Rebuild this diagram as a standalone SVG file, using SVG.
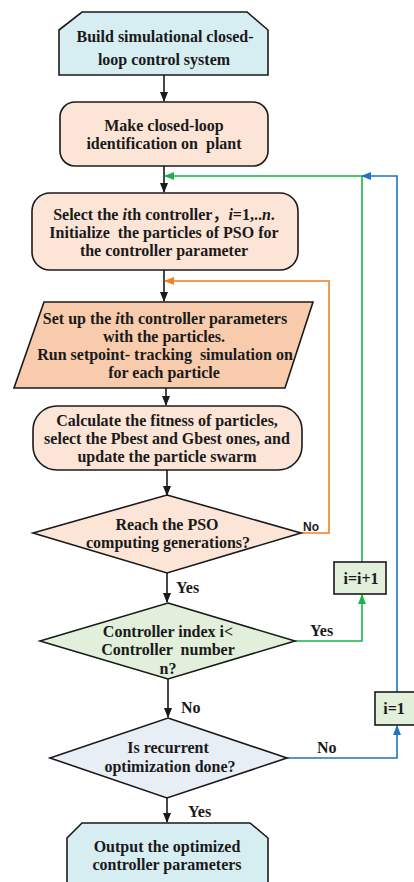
<svg xmlns="http://www.w3.org/2000/svg" width="414" height="882" viewBox="0 0 414 882" xml:space="preserve">
<defs>
<style>
.t{font-family:"Liberation Serif","Times New Roman","Noto Sans CJK SC",serif;font-weight:bold;font-size:16px;fill:#1a1a1a;text-anchor:middle;white-space:pre}
.l{font-family:"Liberation Serif","Times New Roman",serif;font-weight:bold;font-size:16px;fill:#1a1a1a}
.ls{font-family:"Liberation Sans",Arial,sans-serif;font-weight:bold;font-size:12px;fill:#1a1a1a}
.s{stroke:#1a1a1a;stroke-width:1.6}
.c{fill:none;stroke-width:1.6}
.k{stroke:#1a1a1a}
.g{stroke:#19b34a}
.o{stroke:#f47f20}
.b{stroke:#1f72c4}
</style>
<marker id="ak" markerWidth="10" markerHeight="10" refX="9" refY="5" orient="auto" markerUnits="userSpaceOnUse"><path d="M0,1 L10,5 L0,9 z" fill="#1a1a1a"/></marker>
<marker id="ag" markerWidth="10" markerHeight="10" refX="9" refY="5" orient="auto" markerUnits="userSpaceOnUse"><path d="M0,1 L10,5 L0,9 z" fill="#19b34a"/></marker>
<marker id="ao" markerWidth="10" markerHeight="10" refX="9" refY="5" orient="auto" markerUnits="userSpaceOnUse"><path d="M0,1 L10,5 L0,9 z" fill="#f47f20"/></marker>
<marker id="ab" markerWidth="10" markerHeight="10" refX="9" refY="5" orient="auto" markerUnits="userSpaceOnUse"><path d="M0,1 L10,5 L0,9 z" fill="#1f72c4"/></marker>
</defs>
<rect width="414" height="882" fill="#ffffff"/>

<g id="connectors">
<line class="c k" x1="164" y1="75" x2="164" y2="101" marker-end="url(#ak)"/>
<line class="c k" x1="164" y1="166" x2="164" y2="192" marker-end="url(#ak)"/>
<line class="c k" x1="164" y1="270" x2="164" y2="301" marker-end="url(#ak)"/>
<line class="c k" x1="166" y1="388" x2="166" y2="405" marker-end="url(#ak)"/>
<line class="c k" x1="167" y1="470" x2="167" y2="495" marker-end="url(#ak)"/>
<line class="c k" x1="167" y1="573" x2="167" y2="602" marker-end="url(#ak)"/>
<line class="c k" x1="168" y1="679" x2="168" y2="717" marker-end="url(#ak)"/>
<line class="c k" x1="167" y1="798" x2="167" y2="822" marker-end="url(#ak)"/>
<polyline class="c o" points="301,533 329,533 329,281 165,281" marker-end="url(#ao)"/>
<polyline class="c g" points="295,641 362,641 362,595" marker-end="url(#ag)"/>
<polyline class="c g" points="362,562 362,176 165,176" marker-end="url(#ag)"/>
<polyline class="c b" points="287,758 397,758 397,726" marker-end="url(#ab)"/>
<polyline class="c b" points="397,692 397,176 362,176" marker-end="url(#ab)"/>
<text class="ls" x="303" y="531">No</text>
<text class="l" x="176" y="593">Yes</text>
<text class="l" x="310" y="636">Yes</text>
<text class="l" x="181" y="713">No</text>
<text class="l" x="317" y="753">No</text>
<text class="l" x="188" y="817">Yes</text>
</g>

<g id="build">
<path class="s" d="M82,12 L247,12 L268,30 L268,75 L59,75 L59,30 Z" fill="#d6edf2"/>
<text class="t" x="165" y="42">Build simulational closed-</text>
<text class="t" x="164" y="65">loop control system</text>
</g>

<g id="identify">
<rect class="s" x="60" y="102" width="208" height="64" rx="15" fill="#fce5d6"/>
<text class="t" x="164" y="131">Make closed-loop</text>
<text class="t" x="164" y="149">identification on  plant</text>
</g>

<g id="select">
<rect class="s" x="32" y="193" width="266" height="77" rx="18" fill="#fce5d6"/>
<text class="t" x="164" y="220">Select the <tspan font-style="italic">i</tspan>th controller，<tspan font-style="italic">i</tspan>=1,..<tspan font-style="italic">n</tspan>.</text>
<text class="t" x="164" y="238">Initialize  the particles of PSO for</text>
<text class="t" x="164" y="256">the controller parameter</text>
</g>

<g id="setup">
<path class="s" d="M44,302 L313,302 L285,388 L14,388 Z" fill="#f8cbac"/>
<text class="t" x="165" y="324">Set up the <tspan font-style="italic">i</tspan>th controller parameters</text>
<text class="t" x="164" y="342">with the particles.</text>
<text class="t" x="165" y="360">Run setpoint- tracking  simulation on</text>
<text class="t" x="164" y="378">for each particle</text>
</g>

<g id="fitness">
<rect class="s" x="33" y="406" width="269" height="64" rx="24" fill="#fce5d6"/>
<text class="t" x="167" y="426">Calculate the fitness of particles,</text>
<text class="t" x="167" y="444">select the Pbest and Gbest ones, and</text>
<text class="t" x="167" y="462">update the particle swarm</text>
</g>

<g id="reach">
<path class="s" d="M167,495 L301,533 L167,573 L33,533 Z" fill="#fce5d6"/>
<text class="t" x="167" y="530">Reach the PSO</text>
<text class="t" x="168" y="548">computing generations?</text>
</g>

<g id="index">
<path class="s" d="M168,603 L295,641 L168,679 L40,641 Z" fill="#e2efda"/>
<text class="t" x="168" y="637">Controller index i&lt;</text>
<text class="t" x="168" y="655">Controller  number</text>
<text class="t" x="168" y="674">n?</text>
</g>

<g id="inc">
<rect class="s" x="334" y="562" width="52" height="32" fill="#e2efda"/>
<text class="t" x="361" y="584">i=i+1</text>
</g>

<g id="reset">
<rect class="s" x="375" y="692" width="40" height="33" fill="#e2efda"/>
<text class="t" x="394" y="714">i=1</text>
</g>

<g id="recurrent">
<path class="s" d="M168,718 L287,758 L167,798 L50,758 Z" fill="#e7eef6"/>
<text class="t" x="168" y="753">Is recurrent</text>
<text class="t" x="170" y="772">optimization done?</text>
</g>

<g id="output">
<path class="s" d="M82,823 L250,823 L268,838 L268,890 L67,890 L67,838 Z" fill="#d6edf2"/>
<text class="t" x="167" y="852">Output the optimized</text>
<text class="t" x="167" y="870">controller parameters</text>
</g>
</svg>
